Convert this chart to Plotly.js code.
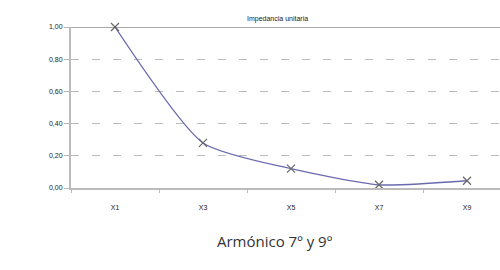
<!DOCTYPE html>
<html><head><meta charset="utf-8">
<script src="https://cdn.plot.ly/plotly-3.0.1.min.js"></script>
<style>html,body{margin:0;padding:0;background:#fff}#chart{width:500px;height:270px}</style>
</head><body><div id="chart"></div>
<script>
const categories = ["X1", "X3", "X5", "X7", "X9"];
const impedancia = [1.00, 0.28, 0.12, 0.02, 0.045];
const yTicks = [0, 0.2, 0.4, 0.6, 0.8, 1.0];

const trace = {
  x: categories, y: impedancia, type: 'scatter', mode: 'lines+markers',
  line: {color: '#6a6aae', width: 1.3, shape: 'spline', smoothing: 0.6},
  marker: {symbol: 'x-thin', size: 8, line: {color: '#666', width: 1.2}, color: '#666'},
  cliponaxis: false, hoverinfo: 'none'
};

const layout = {
  width: 500, height: 270,
  margin: {l: 71, r: 0, t: 27, b: 82},
  paper_bgcolor: '#fff', plot_bgcolor: '#fff',
  separators: ',.',
  showlegend: false,
  font: {family: 'Arial, Liberation Sans, sans-serif', color: '#222', size: 7},
  xaxis: {
    type: 'category', range: [-0.5, 4.375],
    showgrid: false, zeroline: false,
    showline: true, linecolor: '#bbb', linewidth: 1.5,
    ticks: 'outside', tickson: 'boundaries', ticklen: 3, tickcolor: '#bbb',
    ticklabelstandoff: 12,
    tickfont: {size: 7, color: '#222'}
  },
  yaxis: {
    range: [0, 1], tickvals: yTicks, tickformat: '.2f',
    showgrid: true, gridcolor: '#bbb', griddash: '8px,13px', gridwidth: 1.3,
    zeroline: false,
    showline: true, linecolor: '#bbb', linewidth: 2,
    ticks: 'outside', ticklen: 5, tickcolor: '#bbb',
    tickfont: {size: 7, color: '#222'}
  },
  shapes: [{type: 'line', xref: 'paper', yref: 'y', x0: 0, x1: 1, y0: 1, y1: 1,
            line: {color: '#555', width: 1.2}}],
  annotations: [
    {text: 'Impedancia unitaria', xref: 'paper', yref: 'paper', x: 0.4825, y: 1,
     yshift: 14, showarrow: false, font: {size: 7, color: '#222'}},
    {text: 'Armónico 7º y 9º', xref: 'paper', yref: 'paper', x: 0.475, y: 0,
     yshift: -65, showarrow: false, font: {family: 'Open Sans, sans-serif', size: 15, color: '#333'}}
  ]
};
Plotly.newPlot('chart', [trace], layout, {displayModeBar: false, staticPlot: true});
</script></body></html>
